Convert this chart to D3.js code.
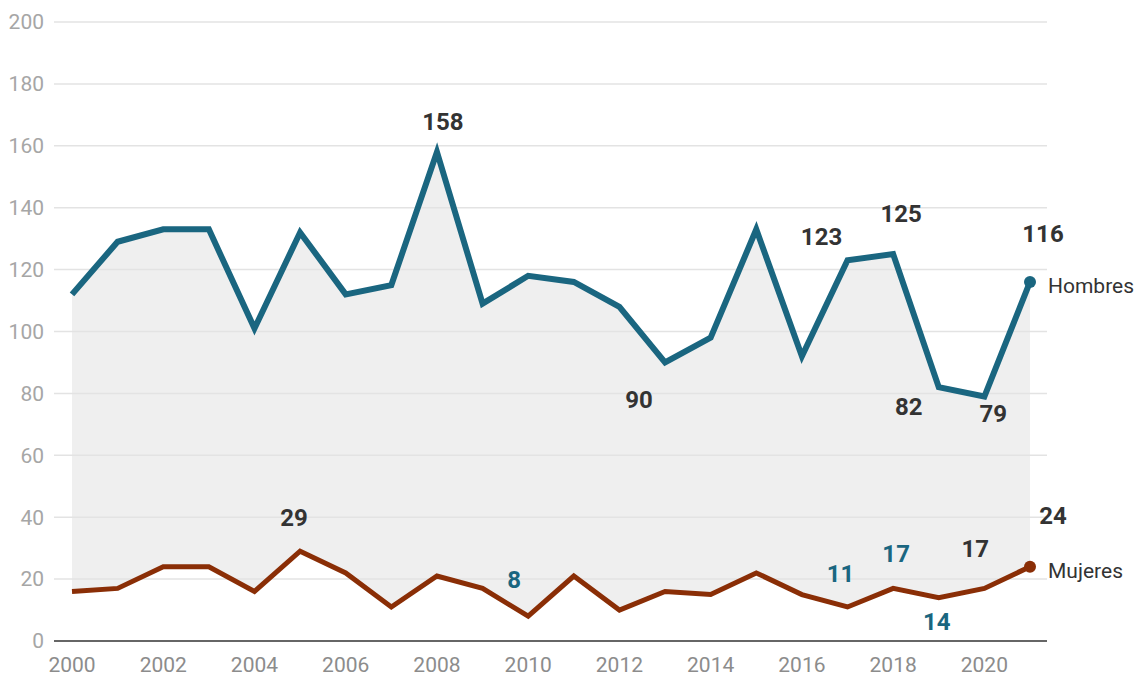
<!DOCTYPE html>
<html><head><meta charset="utf-8">
<script src="https://cdn.jsdelivr.net/npm/d3@7"></script>
<style>body{margin:0;background:#fff;font-family:Roboto,"Noto Sans",sans-serif;}</style>
</head><body><svg id="c" width="1135" height="673"></svg>
<script>
const years = d3.range(2000, 2022);
const hombres = [112,129,133,133,101,132,112,115,158,109,118,116,108,90,98,133,92,123,125,82,79,116];
const mujeres = [16,17,24,24,16,29,22,11,21,17,8,21,10,16,15,22,15,11,17,14,17,24];
const yTicks = [0,20,40,60,80,100,120,140,160,180,200];
const xTicks = [2000,2002,2004,2006,2008,2010,2012,2014,2016,2018,2020];
const seriesNames = ["Hombres","Mujeres"];
// annotations: [series index, year]
const annotations = [[0,2008],[0,2017],[0,2018],[0,2021],[0,2013],[0,2019],[0,2020],
  [1,2005],[1,2010],[1,2017],[1,2018],[1,2019],[1,2020],[1,2021]];
// styling for annotations: offsets and colour
const annStyle = [[6,-30,"#333"],[-26,-24,"#333"],[8,-41,"#333"],[13,-48,"#333"],[-26,37,"#333"],[-30,19,"#333"],[9,17,"#333"],
  [-6,-34,"#333"],[-14,-37,"#1a6680"],[-7,-33,"#1a6680"],[3,-35,"#1a6680"],[-2,24,"#1a6680"],[-9,-40,"#333"],[23,-51,"#333"]];

const svg = d3.select("#c");
const x = d3.scaleLinear().domain([2000,2021]).range([72,1030]);
const y = d3.scaleLinear().domain([0,200]).range([641,22]);
const colors = ["#1a6680","#8a2e06"];
const series = [hombres, mujeres];

// fill between
const area = d3.area().x((d,i)=>x(years[i])).y0((d,i)=>y(mujeres[i])).y1(d=>y(d));
svg.append("path").attr("d", area(hombres)).attr("fill","#efefef");

// grid
svg.append("g").selectAll("line").data(yTicks.filter(t=>t>0)).join("line")
  .attr("x1",54).attr("x2",1047).attr("y1",d=>y(d)).attr("y2",d=>y(d))
  .attr("stroke","#e3e3e3").attr("stroke-width",1.5);

// y labels
svg.append("g").selectAll("text").data(yTicks).join("text")
  .attr("x",44).attr("y",d=>y(d)).attr("dy","0.35em").attr("text-anchor","end")
  .attr("fill","#a6a6a6").style("font-size","21px").text(d=>d);

// x axis
svg.append("line").attr("x1",54).attr("x2",1047).attr("y1",y(0)).attr("y2",y(0))
  .attr("stroke","#333").attr("stroke-width",1.5);
svg.append("g").selectAll("text").data(xTicks).join("text")
  .attr("x",d=>x(d)).attr("y",672).attr("text-anchor","middle")
  .attr("fill","#8c8c8c").style("font-size","21px").text(d=>d);

// lines
const line = d3.line().x((d,i)=>x(years[i])).y(d=>y(d));
series.forEach((s,k)=>{
  svg.append("path").attr("d",line(s)).attr("fill","none")
    .attr("stroke",colors[k]).attr("stroke-width",k===0?6:5).attr("stroke-linejoin","miter");
  const last = s.length-1;
  svg.append("circle").attr("cx",x(years[last])).attr("cy",y(s[last])).attr("r",6).attr("fill",colors[k]);
  svg.append("text").attr("x",x(years[last])+18).attr("y",y(s[last])+4).attr("dy","0.35em")
    .attr("fill","#333").style("font-size","21px").text(seriesNames[k]);
});

// annotations
annotations.forEach((a,i)=>{
  const [k,yr]=a; const v = series[k][years.indexOf(yr)];
  const [dx,dy,col]=annStyle[i];
  svg.append("text").attr("x",x(yr)+dx).attr("y",y(v)+dy).attr("dy","0.35em")
    .attr("text-anchor","middle").attr("fill",col).style("font-size","24px").style("font-weight","700")
    .text(v);
});
</script></body></html>
